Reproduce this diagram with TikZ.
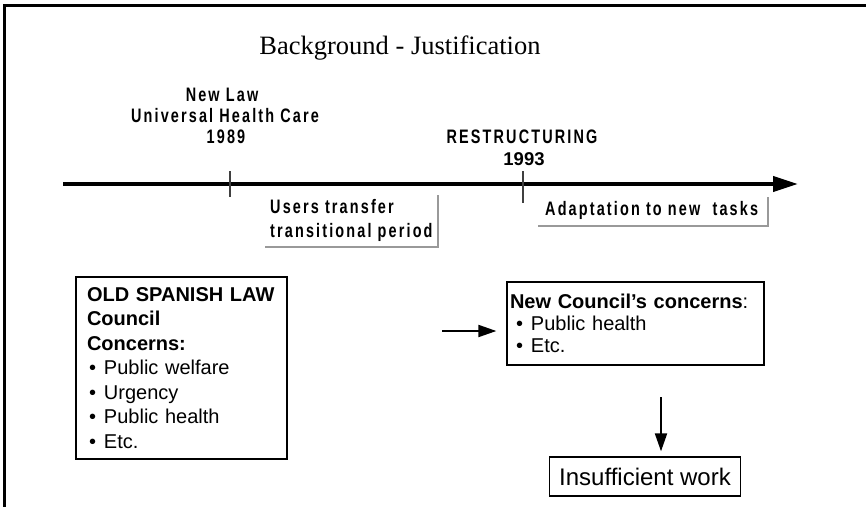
\documentclass[tikz,border=0pt]{standalone}
\usepackage{fontspec}
\setmainfont{Liberation Sans}
\newfontfamily\titlefont{Liberation Serif}
\newfontfamily\trackfont[FakeStretch=0.74,LetterSpace=11]{Liberation Sans}
\usetikzlibrary{arrows.meta}
% bullet with a fixed-width indent
\newcommand\bul{\makebox[17pt][l]{\hspace{2pt}•}}
\begin{document}
\begin{tikzpicture}[x=1pt,y=-1pt,
  frame/.style={line width=3pt,black,line join=miter},
  timeline/.style={line width=4pt,-{Triangle[length=25pt,width=15pt]}},
  tick/.style={line width=1.3pt,black!75},
  ledge/.style={line width=2pt,black!40},
  milestone/.style={font=\trackfont\bfseries\fontsize{19.5}{21}\selectfont,inner sep=0,anchor=base},
  plainmile/.style={font=\bfseries\fontsize{18.5}{21}\selectfont,inner sep=0,anchor=base},
  phase/.style={font=\trackfont\bfseries\fontsize{19.5}{24}\selectfont,inner sep=0,anchor=base west},
  box/.style={draw,line width=1.3pt,align=left,inner ysep=0pt},
  flow/.style={line width=2pt,-{Triangle[length=18pt,width=12pt]}}
]
\useasboundingbox (0,0) rectangle (866,506);

% slide frame (top and left edges)
\draw[frame] (4,510) -- (4,5) -- (870,5);

% title
\node[font=\titlefont\fontsize{26.5}{32}\selectfont,anchor=base,inner sep=0] (title) at (400,54) {Background - Justification};

% time axis
\coordinate (tlstart) at (63,184);
\coordinate (tlend) at (798,184);
\draw[timeline] (tlstart) -- (tlend);

% milestone ticks
\coordinate (t89) at (230,171);
\coordinate (t93) at (523,171);
\draw[tick] (t89) -- ++(0,26);
\draw[tick] (t93) -- ++(0,32);

% milestone labels
\node[milestone] (newlaw) at (222,101) {New Law};
\node[milestone] (uhc) at (225,122) {Universal Health Care};
\node[milestone] (y89) at (226,143) {1989};
\node[milestone] (restr) at (522,143) {RESTRUCTURING};
\node[plainmile] (y93) at (524,165) {1993};

% phase labels with their open grey frames
\node[phase] (users) at (270,213) {Users transfer};
\node[phase] (trans) at (270,237) {transitional period};
\node[phase] (adapt) at (545,215) {Adaptation to new\ \ tasks};
\coordinate (ua) at (438,195);
\coordinate (ub) at (438,247);
\coordinate (uc) at (265,247);
\draw[ledge] (ua) -- (ub) -- (uc);
\coordinate (aa) at (768,197);
\coordinate (ab) at (768,226);
\coordinate (ac) at (538,226);
\draw[ledge] (aa) -- (ab) -- (ac);

% old council duties
\node[box,text width=189pt,inner xsep=11pt,minimum height=182pt,
      font=\fontsize{20}{24.5}\selectfont] (old) at (181.5,368)
  {\textbf{OLD SPANISH LAW}\\
   \textbf{Council}\\
   \textbf{Concerns:}\\
   \bul Public welfare\\
   \bul Urgency\\
   \bul Public health\\
   \bul Etc.};

% new council duties
\node[box,text width=251pt,inner xsep=3pt,minimum height=83pt,
      font=\fontsize{20}{22}\selectfont] (newc) at (635.5,323.5)
  {\textbf{New Council's concerns}:\\
   \hspace{4pt}\bul Public health\\
   \hspace{4pt}\bul Etc.};

% outcome
\node[box,align=center,inner xsep=9.5pt,minimum height=39pt,
      font=\fontsize{24}{28}\selectfont] (insuf) at (645,476.5) {Insufficient work};

% arrows
\coordinate (hs) at (442,331);
\draw[flow] (hs) -- (hs -| newc.west) [shorten >=10pt];
\coordinate (vs) at (661,397);
\draw[flow,shorten >=5pt] (vs) -- (vs |- insuf.north);
\end{tikzpicture}
\end{document}
